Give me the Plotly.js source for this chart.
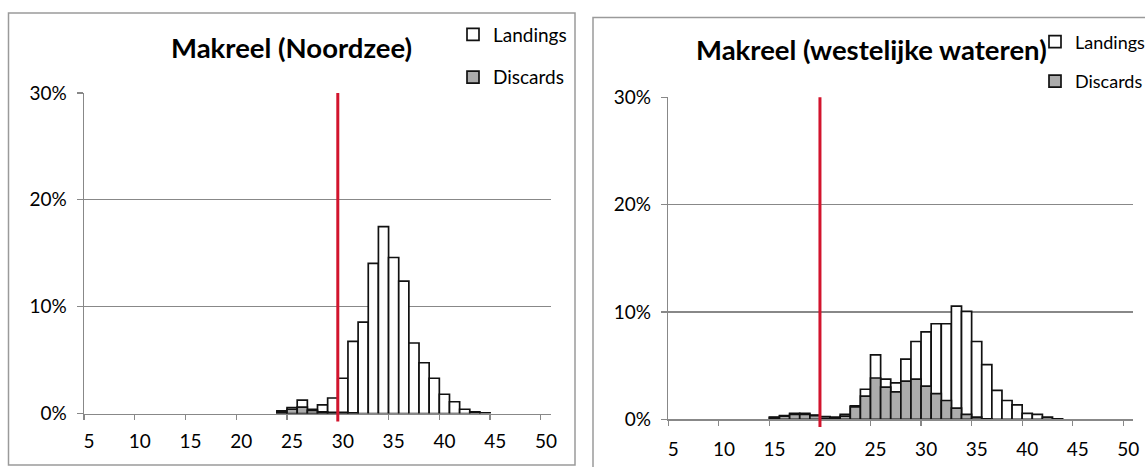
<!DOCTYPE html>
<html>
<head>
<meta charset="utf-8">
<script src="https://cdn.plot.ly/plotly-3.0.1.min.js"></script>
<style>
  html, body { margin: 0; padding: 0; background: #fff; }
  #chart { width: 1145px; height: 467px; }
</style>
</head>
<body>
<div id="chart"></div>
<script>
// Length classes (cm)
const bins = [5,6,7,8,9,10,11,12,13,14,15,16,17,18,19,20,21,22,23,24,25,26,27,28,29,30,
              31,32,33,34,35,36,37,38,39,40,41,42,43,44,45,46,47,48,49,50];
const xTickLabels = [5,10,15,20,25,30,35,40,45,50];
const yTickValues = [0,10,20,30];
const yTickLabels = ['0%','10%','20%','30%'];

// Makreel (Noordzee), % per length class
const northLandings = [0,0,0,0,0,0,0,0,0,0,0,0,0,0,0,0,0,0,0,
  0.25,0.55,1.25,0.4,0.8,1.45,3.3,6.75,8.55,14.05,17.5,14.6,12.4,6.6,4.75,3.3,1.8,1.1,0.4,0.15,0.05,
  0,0,0,0,0,0];
const northDiscards = [0,0,0,0,0,0,0,0,0,0,0,0,0,0,0,0,0,0,0,
  0.15,0.4,0.6,0.3,0.15,0.1,0.1,0.05,
  0,0,0,0,0,0,0,0,0,0,0,0,0,0,0,0,0,0,0];
const northMinSize = 29.5;

// Makreel (westelijke wateren), % per length class
const westLandings = [0,0,0,0,0,0,0,0,0,0,
  0.2,0.35,0.55,0.55,0.4,0.25,0.2,0.45,1.25,2.8,6.0,3.75,3.4,5.6,7.25,8.15,8.9,8.9,10.55,10.05,
  7.25,5.1,2.7,1.75,1.35,0.55,0.45,0.2,0.05,
  0,0,0,0,0,0,0];
const westDiscards = [0,0,0,0,0,0,0,0,0,0,
  0.15,0.3,0.45,0.45,0.35,0.1,0.1,0.3,1.15,2.15,3.85,3.0,2.55,3.55,3.75,3.1,2.4,1.75,1.05,0.45,0.2,0.05,
  0,0,0,0,0,0,0,0,0,0,0,0,0,0];
const westMinSize = 19.5;

const W = 1145, H = 467;
const px = v => v / W;
const py = v => 1 - v / H;
const nz = arr => arr.map(v => (v === 0 ? null : v));

const FONT = 'Lato, "Open Sans", sans-serif';
const GRID = '#888888';

function barTrace(y, name, fill, xa, ya, legend, group) {
  return {
    type: 'bar', x: bins, y: nz(y), name: name, xaxis: xa, yaxis: ya,
    width: 1, legend: legend, legendgroup: group,
    marker: { color: fill, line: { color: '#111', width: 1.7 } },
    hoverinfo: 'skip'
  };
}

const data = [
  barTrace(northLandings, 'Landings', '#ffffff', 'x', 'y', 'legend', 'a1'),
  barTrace(northDiscards, 'Discards', '#acacac', 'x', 'y', 'legend', 'a2'),
  barTrace(westLandings, 'Landings', '#ffffff', 'x2', 'y2', 'legend2', 'b1'),
  barTrace(westDiscards, 'Discards', '#acacac', 'x2', 'y2', 'legend2', 'b2')
];

function xAxis(domain, anchor, standoff) {
  return {
    domain: domain, anchor: anchor, range: [4.5, 50.5],
    tickmode: 'array', tickvals: xTickLabels, ticktext: xTickLabels.map(String),
    ticks: '', showgrid: false, zeroline: false,
    showline: true, linecolor: GRID, linewidth: 1.5,
    minor: { tick0: 4.5, dtick: 5, ticks: 'outside', ticklen: 5, tickwidth: 1.2, tickcolor: GRID, showgrid: false },
    ticklabelstandoff: standoff,
    tickfont: { family: FONT, size: 19, color: '#000' },
    fixedrange: true
  };
}
function yAxis(domain, anchor) {
  return {
    domain: domain, anchor: anchor, range: [0, 30],
    tickmode: 'array', tickvals: yTickValues, ticktext: yTickLabels,
    ticks: 'outside', ticklen: 6, tickwidth: 1.2, tickcolor: GRID,
    showgrid: true, gridcolor: GRID, gridwidth: 1.3, zeroline: false,
    showline: true, linecolor: GRID, linewidth: 1.5,
    ticklabelstandoff: 6,
    tickfont: { family: FONT, size: 19, color: '#000' },
    fixedrange: true
  };
}

const legendCommon = {
  xanchor: 'left', yanchor: 'top', bgcolor: 'rgba(0,0,0,0)', borderwidth: 0,
  font: { family: FONT, size: 19, color: '#000' },
  traceorder: 'grouped', itemclick: false, itemdoubleclick: false
};

const layout = {
  width: W, height: H,
  margin: { l: 0, r: 0, t: 0, b: 0, autoexpand: false },
  paper_bgcolor: '#fff', plot_bgcolor: '#fff',
  barmode: 'overlay', bargap: 0,
  showlegend: true,
  xaxis: xAxis([px(84), px(551)], 'y', 10),
  yaxis: yAxis([1 - 413.5 / H, 1 - 93 / H], 'x'),
  xaxis2: xAxis([px(668.3), px(1133.4)], 'y2', 12),
  yaxis2: yAxis([1 - 419.3 / H, 1 - 97.3 / H], 'x2'),
  legend: Object.assign({}, legendCommon, { x: px(453), y: py(15.5), tracegroupgap: 15 }),
  legend2: Object.assign({}, legendCommon, {
    x: px(1035), y: py(23.5), tracegroupgap: 13,
    font: { family: FONT, size: 18, color: '#000' }
  }),
  annotations: [
    { text: '<b>Makreel (Noordzee)</b>', xref: 'paper', yref: 'paper', x: px(291), y: py(47.5),
      xanchor: 'center', yanchor: 'middle', showarrow: false,
      font: { family: FONT, size: 27.5, color: '#000' } },
    { text: '<b>Makreel (westelijke wateren)</b>', xref: 'paper', yref: 'paper', x: px(871), y: py(49),
      xanchor: 'center', yanchor: 'middle', showarrow: false,
      font: { family: FONT, size: 27.5, color: '#000' } }
  ],
  shapes: [
    { type: 'rect', xref: 'paper', yref: 'paper', x0: px(8.5), x1: px(575), y0: py(465), y1: py(13),
      line: { color: '#9a9a9a', width: 1.5 }, fillcolor: 'rgba(0,0,0,0)', layer: 'below' },
    { type: 'rect', xref: 'paper', yref: 'paper', x0: px(593), x1: px(1160), y0: py(480), y1: py(17.5),
      line: { color: '#9a9a9a', width: 1.5 }, fillcolor: 'rgba(0,0,0,0)', layer: 'below' },
    { type: 'line', xref: 'x', yref: 'paper', x0: northMinSize, x1: northMinSize, y0: py(421.5), y1: py(93),
      line: { color: '#d2142d', width: 3 } },
    { type: 'line', xref: 'x2', yref: 'paper', x0: westMinSize, x1: westMinSize, y0: py(427), y1: py(97.3),
      line: { color: '#d2142d', width: 3 } }
  ]
};

Plotly.newPlot('chart', data, layout, { staticPlot: true, displayModeBar: false });
</script>
</body>
</html>
